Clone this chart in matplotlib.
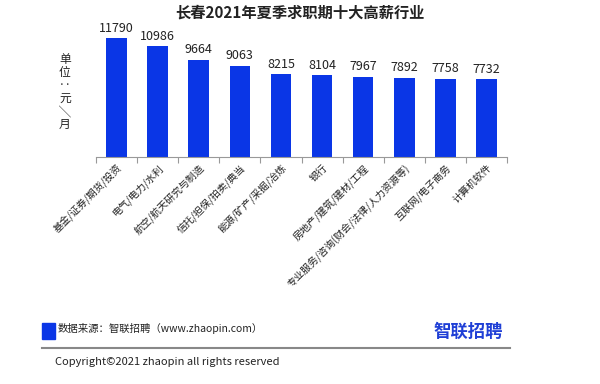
import matplotlib.pyplot as plt
from matplotlib.patches import Rectangle
from matplotlib.lines import Line2D

plt.rcParams["font.family"] = ["Noto Sans CJK SC", "DejaVu Sans"]

TITLE = "长春2021年夏季求职期十大高薪行业"
industries = [
    "基金/证券/期货/投资",
    "电气/电力/水利",
    "航空/航天研究与制造",
    "信托/担保/拍卖/典当",
    "能源/矿产/采掘/冶炼",
    "银行",
    "房地产/建筑/建材/工程",
    "专业服务/咨询(财会/法律/人力资源等)",
    "互联网/电子商务",
    "计算机软件",
]
salaries = [11790, 10986, 9664, 9063, 8215, 8104, 7967, 7892, 7758, 7732]

BAR_COLOR = "#0a36e6"

fig = plt.figure(figsize=(6.0, 3.84), dpi=100)
ax = fig.add_axes([0.16, 0.591, 0.685, 0.341])

x = list(range(len(industries)))
ax.bar(x, salaries, width=0.5, color=BAR_COLOR, zorder=2)
for xi, v in zip(x, salaries):
    ax.text(xi, v + 350, str(v), ha="center", va="bottom", fontsize=9, color="#222222")

ax.set_xlim(-0.5, len(industries) - 0.5)
ax.set_ylim(0, 13000)
ax.set_yticks([])
for side in ["top", "right", "left"]:
    ax.spines[side].set_visible(False)
ax.spines["bottom"].set_color("#999999")
ax.spines["bottom"].set_linewidth(0.8)

# ticks between categories
ax.set_xticks([i - 0.5 for i in range(len(industries) + 1)], minor=True)
ax.tick_params(axis="x", which="minor", length=4, color="#999999", width=0.8)
ax.set_xticks(x)
ax.tick_params(axis="x", which="major", length=0, pad=4)
ax.set_xticklabels(industries, rotation=45, ha="right", rotation_mode="anchor",
                   fontsize=7.2, color="#222222")

fig.text(0.5, 0.968, TITLE, ha="center", va="center", fontsize=11, fontweight="bold",
         color="#222222")
fig.text(0.108, 0.76, "单\n位\n‥\n元\n╲\n月", ha="center", va="center", fontsize=8.5,
         linespacing=1.0, color="#222222")

# footer
fig.patches.append(Rectangle((42 / 600, 1 - 339 / 384), 13 / 600, 16 / 384,
                             transform=fig.transFigure, color=BAR_COLOR))
fig.text(58 / 600, 1 - 329 / 384, "数据来源：智联招聘（www.zhaopin.com）", ha="left",
         va="center", fontsize=7.5, color="#222222")
fig.text(468 / 600, 1 - 332 / 384, "智联招聘", ha="center", va="center", fontsize=12.5,
         fontweight="bold", color="#1f3fd6")
fig.lines.append(Line2D([42 / 600, 510 / 600], [1 - 348 / 384, 1 - 348 / 384],
                        transform=fig.transFigure, color="#888888", linewidth=1.5))
fig.text(55 / 600, 1 - 362 / 384, "Copyright©2021 zhaopin all rights reserved", ha="left",
         va="center", fontsize=8, color="#222222")

fig.savefig("out.png", dpi=100, facecolor="white")
